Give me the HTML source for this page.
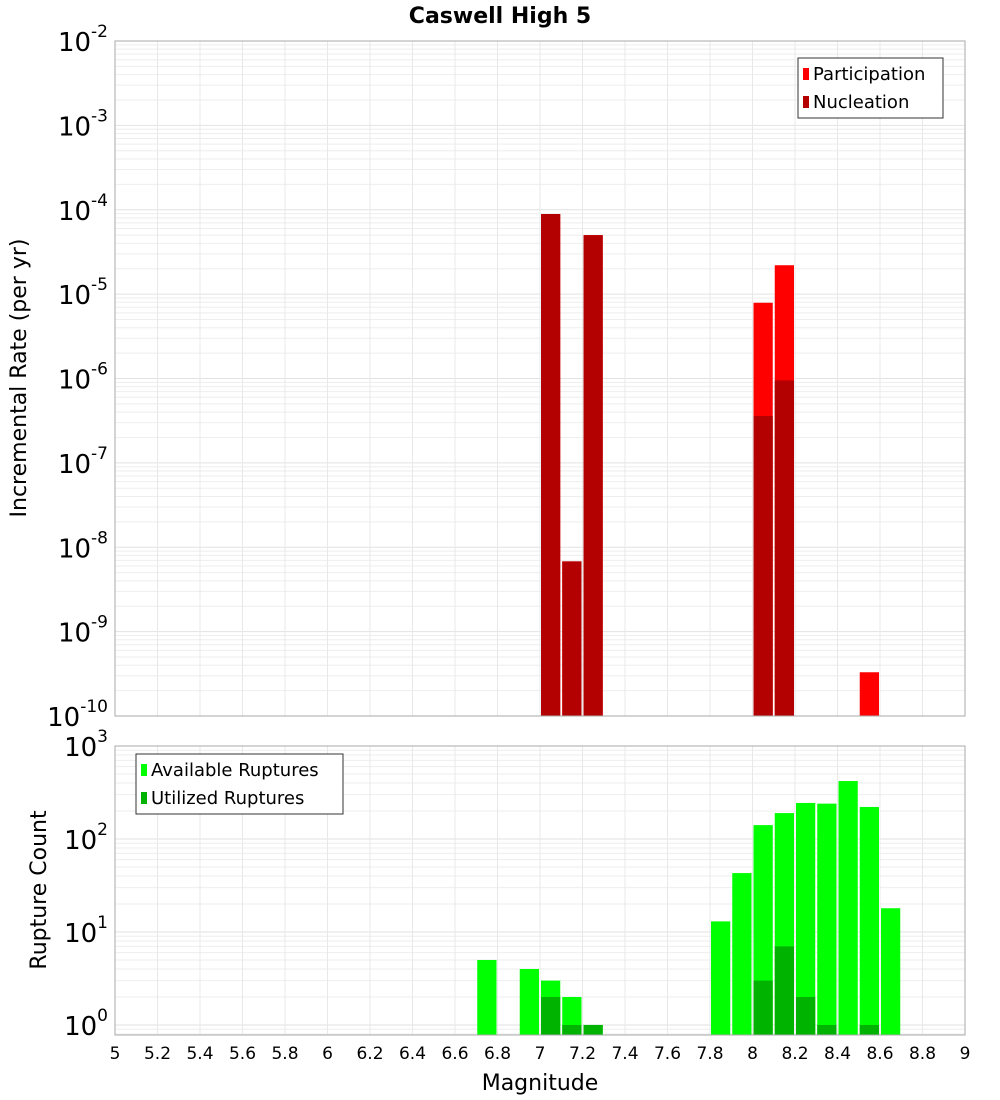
<!DOCTYPE html>
<html><head><meta charset="utf-8"><style>
body{margin:0;background:#fff;font-family:"DejaVu Sans","Liberation Sans",sans-serif}
svg{display:block}
</style></head><body>
<svg id="c" width="1000" height="1100" xmlns="http://www.w3.org/2000/svg">
<text x="500" y="23" text-anchor="middle" font-size="22" font-weight="bold">Caswell High 5</text>
<text transform="translate(26,378) rotate(-90)" text-anchor="middle" font-size="22">Incremental Rate (per yr)</text>
<text transform="translate(46,890) rotate(-90)" text-anchor="middle" font-size="22">Rupture Count</text>
<text x="540" y="1090" text-anchor="middle" font-size="22">Magnitude</text>
<g id="g"></g>
</svg>
<script>
const topMags=[7.0,7.1,7.2,8.0,8.1,8.5];
const participation=[8.9e-5,6.8e-9,5.0e-5,7.9e-6,2.2e-5,3.3e-10];
const nucleation=[8.9e-5,6.8e-9,5.0e-5,3.6e-7,9.5e-7,0];
const botMags=[6.7,6.9,7.0,7.1,7.2,7.8,7.9,8.0,8.1,8.2,8.3,8.4,8.5,8.6];
const available=[5,4,3,2,1,13,43,141,190,244,240,420,221,18];
const utilized=[0,0,2,1,1,0,0,3,7,2,1,0,1,0];
const xTicks=[5,5.2,5.4,5.6,5.8,6,6.2,6.4,6.6,6.8,7,7.2,7.4,7.6,7.8,8,8.2,8.4,8.6,8.8,9];
const NS="http://www.w3.org/2000/svg",g=document.getElementById('g');
const X0=115,X1=965;
const x=m=>X0+(m-5)/4*(X1-X0);
const T={y0:41,y1:716,lmin:-10,lmax:-2};
const B={y0:746,y1:1035,lmin:Math.log10(0.78),lmax:3};
const y=(P,v)=>P.y1-(Math.log10(v)-P.lmin)/(P.lmax-P.lmin)*(P.y1-P.y0);
function el(t,a,txt){const e=document.createElementNS(NS,t);for(const k in a)e.setAttribute(k,a[k]);if(txt!=null)e.textContent=txt;g.appendChild(e);return e;}
function panel(P,dmin,dmax,nm){
  for(let d=dmin;d<=dmax;d++){for(let k=1;k<10;k++){const v=Math.pow(10,d)*k;const yy=y(P,v);if(yy<P.y0-0.5||yy>P.y1+0.5)continue;
    const l=el('line',{x1:X0,x2:X1,y1:yy,y2:yy,stroke:k==1?'#e2e2e2':'#eeeeee','stroke-width':1});
    }}
  for(let m=5;m<=9.001;m+=0.2){const xx=x(m);const l=el('line',{x1:xx,x2:xx,y1:P.y0,y2:P.y1,stroke:'#e8e8e8'});
    }
}
function frame(P,nm){const r=el('rect',{x:X0,y:P.y0,width:X1-X0,height:P.y1-P.y0,fill:'none',stroke:'#aaa'});
  }
function ylab(P,d,nm){const yy=y(P,Math.pow(10,d));const t=el('text',{x:108,y:yy+10,'text-anchor':'end','font-size':26});
  
  t.textContent='10';const s=document.createElementNS(NS,'tspan');s.setAttribute('dy','-14');s.setAttribute('font-size','17');s.textContent=String(d);t.appendChild(s);}
function bar(P,m,v,c,nm){if(!v)return;const x0=x(m)+1,x1=x(m+0.1)-1,yy=Math.max(P.y0,y(P,v));
  const r=el('rect',{x:x0,y:yy,width:x1-x0,height:P.y1-yy,fill:c});
  }
panel(T,-10,-2,'top');panel(B,-1,3,'bottom');
topMags.forEach((m,i)=>bar(T,m,participation[i],'#ff0000','participation-bar'));
topMags.forEach((m,i)=>bar(T,m,nucleation[i],'#b30000','nucleation-bar'));
botMags.forEach((m,i)=>bar(B,m,available[i],'#00ff00','available-bar'));
botMags.forEach((m,i)=>bar(B,m,utilized[i],'#00b300','utilized-bar'));
frame(T,'top');frame(B,'bottom');
for(let d=-10;d<=-2;d++)ylab(T,d,'top');
for(let d=0;d<=3;d++)ylab(B,d,'bottom');
xTicks.forEach(m=>{const t=el('text',{x:x(m),y:1059,'text-anchor':'middle','font-size':17},String(m));
  });
function legend(x0,y0,w,items,nm){const r=el('rect',{x:x0,y:y0,width:w,height:60,fill:'#fff',stroke:'#333'});
  
  items.forEach((it,i)=>{const yy=y0+18+i*28;const s=el('rect',{x:x0+5,y:yy-8,width:6,height:12,fill:it[1]});
    
    const t=el('text',{x:x0+15,y:yy+4,'font-size':18},it[0]);
    });}
legend(798,58,145,[['Participation','#ff0000'],['Nucleation','#b30000']],'top-legend');
legend(136,754,207,[['Available Ruptures','#00ff00'],['Utilized Ruptures','#00b300']],'bottom-legend');
</script>
</body></html>
